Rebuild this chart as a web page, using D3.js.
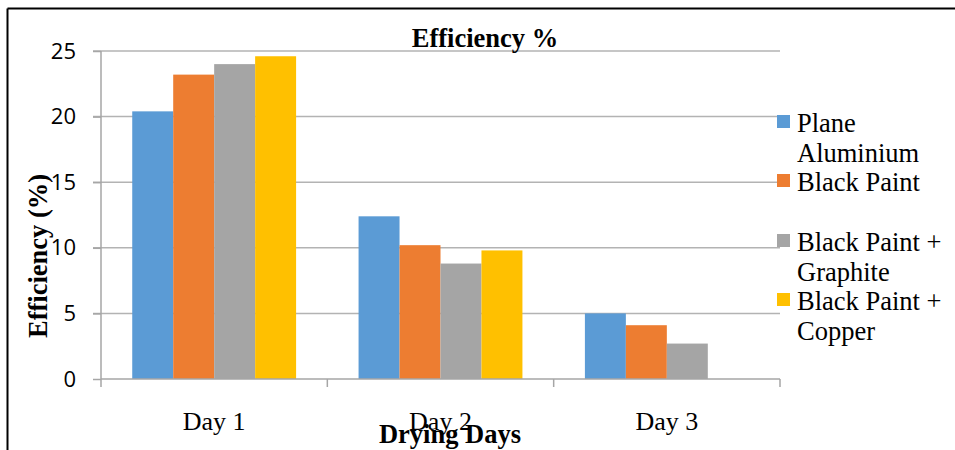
<!DOCTYPE html>
<html>
<head>
<meta charset="utf-8">
<script src="https://cdn.jsdelivr.net/npm/d3@7"></script>
<style>
  html, body { margin: 0; padding: 0; background: #fff; }
  svg { display: block; }
</style>
</head>
<body>
<svg id="chart" width="955" height="450"></svg>
<script>
const categories = ["Day 1", "Day 2", "Day 3"];
const seriesNames = ["Plane Aluminium", "Black Paint", "Black Paint + Graphite", "Black Paint + Copper"];
const legendLines = [["Plane", "Aluminium"], ["Black Paint"], ["Black Paint +", "Graphite"], ["Black Paint +", "Copper"]];
const planeAluminium = [20.4, 12.4, 5.0];
const blackPaint = [23.2, 10.2, 4.1];
const blackPaintGraphite = [24.0, 8.8, 2.7];
const blackPaintCopper = [24.6, 9.8, 0];
const yTicks = [0, 5, 10, 15, 20, 25];
const colors = ["#5B9BD5", "#ED7D31", "#A5A5A5", "#FFC000"];

const values = [planeAluminium, blackPaint, blackPaintGraphite, blackPaintCopper];
const data = categories.map((c, i) => ({
  cat: c,
  vals: seriesNames.map((s, j) => ({ series: s, value: values[j][i], color: colors[j] }))
}));

const svg = d3.select("#chart");
const mLeft = 101, mRight = 780, mTop = 51, mBottom = 379;
const serif = "'Liberation Serif', 'Times New Roman', serif";

// figure border (top and left)
svg.append("line").attr("x1", 7.5).attr("x2", 955).attr("y1", 8.5).attr("y2", 8.5)
  .attr("stroke", "#000").attr("stroke-width", 2);
svg.append("line").attr("x1", 7.5).attr("x2", 7.5).attr("y1", 8.5).attr("y2", 450)
  .attr("stroke", "#000").attr("stroke-width", 2);

const x = d3.scaleBand().domain(categories).range([mLeft, mRight]).padding(0);
const y = d3.scaleLinear().domain([0, 25]).range([mBottom, mTop]);
const bw = x.bandwidth();
const xi = d3.scaleBand().domain(seriesNames).range([bw * 0.138, bw * 0.862]).padding(0);

// gridlines
svg.append("g").selectAll("line").data(yTicks.filter(t => t > 0)).join("line")
  .attr("x1", mLeft - 8).attr("x2", mRight)
  .attr("y1", d => y(d)).attr("y2", d => y(d))
  .attr("stroke", "#b3b3b3").attr("stroke-width", 1.5);

// y axis
const yAxis = d3.axisLeft(y).tickValues(yTicks).tickSize(8).tickPadding(17).tickFormat(d3.format("d"));
const gy = svg.append("g").attr("transform", `translate(${mLeft},0)`).call(yAxis);
gy.select(".domain").attr("stroke", "#a6a6a6").attr("stroke-width", 1.5).attr("d", `M0,${mTop}V${mBottom}`);
gy.selectAll(".tick line").attr("stroke", "#a6a6a6").attr("stroke-width", 1.5);
gy.selectAll(".tick text").attr("font-family", "'Open Sans', sans-serif").attr("font-size", 22).attr("fill", "#000");

// bars
const groups = svg.append("g").selectAll("g").data(data).join("g")
  .attr("transform", d => `translate(${x(d.cat)},0)`);
groups.selectAll("rect").data(d => d.vals).join("rect")
  .attr("x", d => xi(d.series))
  .attr("width", xi.bandwidth())
  .attr("y", d => y(d.value))
  .attr("height", d => y(0) - y(d.value))
  .attr("fill", d => d.color);

// x axis
const xAxis = d3.axisBottom(x).tickSize(0).tickPadding(33);
const gx = svg.append("g").attr("transform", `translate(0,${mBottom})`).call(xAxis);
gx.select(".domain").attr("stroke", "#a6a6a6").attr("stroke-width", 1.5).attr("d", `M${mLeft},0H${mRight}`);
gx.selectAll(".tick text").attr("font-family", serif).attr("font-size", 26).attr("fill", "#000");
// boundary ticks
const bounds = categories.map(c => x(c)).concat([x(categories[categories.length - 1]) + bw]);
svg.append("g").selectAll("line").data(bounds).join("line")
  .attr("x1", d => d).attr("x2", d => d).attr("y1", mBottom).attr("y2", mBottom + 8)
  .attr("stroke", "#a6a6a6").attr("stroke-width", 1.5);

// title
svg.append("text").attr("x", 485).attr("y", 47).attr("text-anchor", "middle")
  .attr("font-family", serif).attr("font-weight", "bold").attr("font-size", 26.5)
  .text("Efficiency %");

// axis titles
svg.append("text").attr("x", 450).attr("y", 443).attr("text-anchor", "middle")
  .attr("font-family", serif).attr("font-weight", "bold").attr("font-size", 26.5)
  .text("Drying Days");
svg.append("text").attr("transform", "translate(47,256) rotate(-90)").attr("text-anchor", "middle")
  .attr("font-family", serif).attr("font-weight", "bold").attr("font-size", 26.5)
  .text("Efficiency (%)");

// legend
const legTops = [115, 174, 234, 293];
const leg = svg.append("g").selectAll("g").data(seriesNames).join("g")
  .attr("transform", (d, i) => `translate(777,${legTops[i]})`);
leg.append("rect").attr("width", 13).attr("height", 13).attr("fill", (d, i) => colors[i]);
leg.append("text").attr("font-family", serif).attr("font-size", 26.5).attr("fill", "#000")
  .selectAll("tspan").data((d, i) => legendLines[i]).join("tspan")
  .attr("x", 20).attr("y", (d, k) => 17 + k * 30).text(d => d);
</script>
</body>
</html>
